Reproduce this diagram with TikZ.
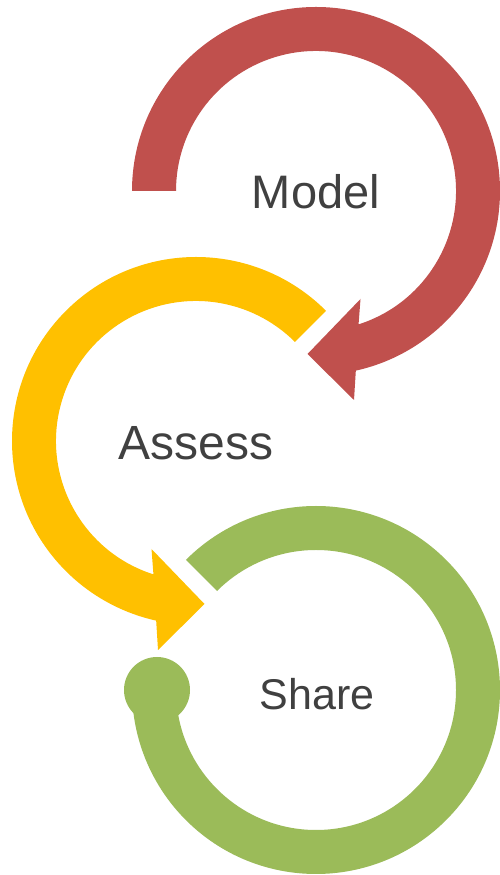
\documentclass[tikz,border=0pt]{standalone}
\usepackage{fontspec}
\setmainfont{Liberation Sans}
\usetikzlibrary{calc}
\definecolor{cred}{HTML}{C0504D}
\definecolor{cyellow}{HTML}{FFC000}
\definecolor{cgreen}{HTML}{9BBB59}
\definecolor{ctext}{HTML}{404040}
\begin{document}
\begin{tikzpicture}[x=1pt,y=1pt,
  lbl/.style={anchor=base,inner sep=0pt,text=ctext,font=\fontsize{48}{58}\selectfont}]
\useasboundingbox (0,0) rectangle (500,875);
% centres
\coordinate (cR) at (316,684);
\coordinate (cY) at (196,434);
\coordinate (cG) at (316,185);
% red arc
\fill[cred] ($(cR)+(180:184)$) arc[start angle=180,end angle=-77.5,radius=184]
  -- ($(cR)+(38,-209)$) -- ($(cR)+(-8.5,-163)$) -- ($(cR)+(44.5,-108)$)
  -- ($(cR)+(-72.3:140)$) arc[start angle=-72.3,end angle=180,radius=140] -- cycle;
% yellow arc
\fill[cyellow] ($(cY)+(45:184)$) arc[start angle=45,end angle=257.5,radius=184]
  -- ($(cY)+(-38,-209)$) -- ($(cY)+(8.5,-163)$) -- ($(cY)+(-44.5,-108)$)
  -- ($(cY)+(252.3:140)$) arc[start angle=252.3,end angle=45,radius=140] -- cycle;
% green arc
\fill[cgreen] ($(cG)+(135:184)$) arc[start angle=135,end angle=-180,radius=184]
  -- ($(cG)+(180:140)$) arc[start angle=-180,end angle=135,radius=140] -- cycle;
\fill[cgreen] ($(cG)+(180:159)$) circle[radius=33];
% labels
\node[lbl,font=\fontsize{47}{56}\selectfont] (model) at (316,666.7) {Model};
\node[lbl] (assess) at (196,415) {Assess};
\node[lbl,font=\fontsize{43}{52}\selectfont] (share) at (317,165.7) {Share};
\end{tikzpicture}
\end{document}
